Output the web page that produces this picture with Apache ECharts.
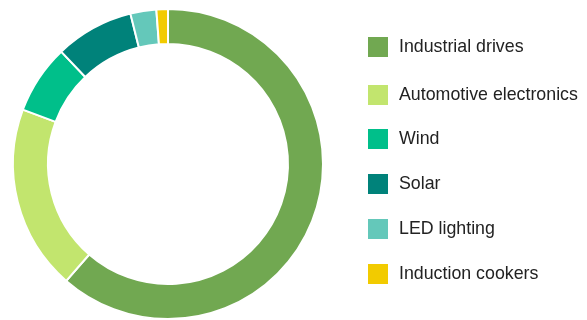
<!DOCTYPE html>
<html>
<head>
<meta charset="utf-8">
<script src="https://cdn.jsdelivr.net/npm/echarts@6/dist/echarts.min.js"></script>
<style>
  html, body { margin: 0; padding: 0; background: #ffffff; }
  #chart { width: 587px; height: 320px; }
</style>
</head>
<body>
<div id="chart"></div>
<script>
// Share of applications (%)
const categories = ['Industrial drives', 'Automotive electronics', 'Wind', 'Solar', 'LED lighting', 'Induction cookers'];
const shares = [61.4, 19.3, 7.2, 8.2, 2.7, 1.2];
const palette = ['#71a851', '#c2e56e', '#00bf8a', '#00827a', '#64c8ba', '#f2cb00'];

// vertical placement of each legend row
const legendRowTops = [35, 83, 127, 172, 217, 262];

const chart = echarts.init(document.getElementById('chart'), null, { renderer: 'canvas' });

const legends = categories.map((name, i) => ({
  data: [name],
  left: 366,
  top: legendRowTops[i],
  orient: 'vertical',
  padding: 0,
  icon: 'rect',
  itemWidth: 22,
  itemHeight: 22,
  selectedMode: false,
  textStyle: {
    fontFamily: 'Liberation Sans, Arial, sans-serif',
    fontSize: 17.8,
    color: '#222222',
    padding: [2, 0, 0, 5]
  }
}));

chart.setOption({
  animation: false,
  color: palette,
  legend: legends,
  series: [{
    type: 'pie',
    center: [168, 164],
    radius: [120, 155],
    startAngle: 90,
    clockwise: true,
    label: { show: false },
    labelLine: { show: false },
    emphasis: { disabled: true },
    itemStyle: { borderColor: '#ffffff', borderWidth: 2 },
    data: categories.map((name, i) => ({ name, value: shares[i] }))
  }]
});
</script>
</body>
</html>
